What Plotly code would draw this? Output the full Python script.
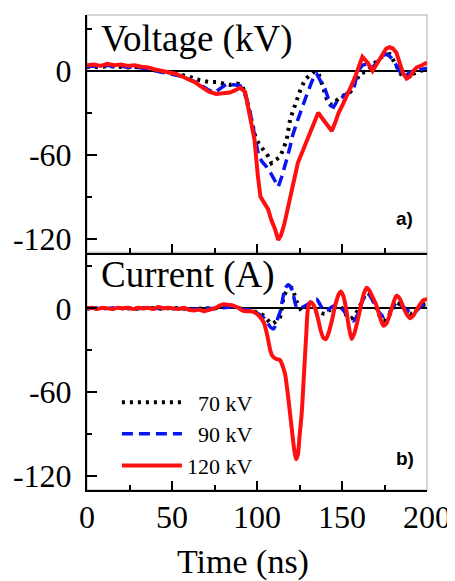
import plotly.graph_objects as go

# ---------------- data ----------------
# Panel a: Voltage (kV)
t_v120 = [0, 4, 8, 12, 16, 20, 24, 28, 32, 36, 40, 44, 48, 52, 56, 60, 64, 68, 72, 76, 80, 84, 87, 90, 93, 96,
          98.5, 100.5, 102, 104.5, 106.5, 108.5, 110.5, 112.5, 114, 116, 118, 120, 122, 124, 126, 128, 131,
          133.5, 136, 139, 141.5, 144, 146, 148, 150.5, 153, 155, 157.5, 160, 162, 165, 168, 171, 174, 176,
          178, 180, 182, 184, 186, 188, 190, 192, 194, 197, 200]
v120 = [4, 4.5, 3.5, 5, 4, 4.5, 3.5, 4, 3, 2.5, 1, 0, -1, -2, -4, -6, -8.5, -12, -15, -16.5, -16, -15.5, -14,
        -12, -15, -32, -49, -75, -90, -95, -99, -107, -113, -121, -118, -110, -100, -87, -77, -66, -60, -53,
        -44.5, -37, -30, -35, -39, -43, -37, -30, -24, -18, -12, -5, 3, 10, 6, 0, 6, 12, 16, 17, 16, 13, 5,
        -2, -5.5, -4, 0, 2.5, 4, 6]

t_v90 = [0, 4, 8, 12, 16, 20, 24, 28, 32, 36, 40, 44, 48, 52, 56, 60, 64, 68, 72, 75, 78, 82, 86, 90, 92, 94,
         96, 98, 101, 103, 105.5, 108, 110, 112.5, 114.5, 116.5, 118, 119.5, 121, 124, 126.5, 129, 131.5,
         133.5, 135, 137, 140, 142, 143.5, 145, 147, 150, 153, 156.5, 158, 159.5, 162, 164.5, 168, 171, 174,
         176, 178, 180, 183, 186, 188, 190, 192, 196, 200]
v90 = [3, 3.5, 3, 4, 3, 3.5, 2.5, 3, 2, 1.5, 0, -1, -2, -3, -4, -6, -8, -11, -14, -15.5, -13, -9.5, -10, -10.5,
       -14, -20, -30, -42, -61, -65, -68.5, -73, -78, -83, -76, -68.5, -61, -54, -46, -35, -26, -18, -10, -4,
       -2, -6, -13, -20, -25, -26, -22, -19, -16, -14, -6, 0, 4, 5, 2.5, 7, 11, 12, 10.5, 8, 2, -4.5, -3, -1,
       0, 1, 2]

t_v70 = [0, 4, 8, 12, 16, 20, 24, 28, 32, 36, 40, 44, 48, 52, 56, 60, 64, 68, 72, 76, 80, 84, 88, 91, 93, 95,
         97, 99, 101, 103, 104.5, 106.5, 108.5, 111, 113.5, 115.5, 117.5, 119.5, 121.5, 123.5, 126, 128.5,
         131, 133, 136, 138, 141, 143, 145, 147, 149, 152, 155, 158, 160.5, 163, 165, 168, 172, 175, 178,
         180, 182, 184, 186, 189, 192, 196, 200]
v70 = [3, 3, 2.5, 3.5, 3, 3, 2.5, 3, 2, 1.5, 0.5, -0.5, -1, -2, -3, -4, -6, -7, -8, -8, -9, -10, -9, -10, -16,
       -26, -38, -47, -52, -55, -57, -61, -66, -64, -61.5, -56, -49, -34.5, -27, -20, -12, -6, -3, -1, -1, -8,
       -20, -24, -24, -21, -19, -17, -15, -8, -2, -1, 0, 4, 9, 11, 12, 8, 3, -1, -5, -3.5, -2, 0, 1]

# Panel b: Current (A)
t_i120 = [0, 3, 6, 9, 12, 15, 18, 21, 24, 27, 30, 33, 36, 39, 42, 45, 48, 51, 54, 57, 60, 63, 66, 69, 72, 75,
          78, 80.5, 83, 86, 89, 92, 95, 98, 100, 102, 104, 106, 108, 109, 111, 113.5, 115, 116.5, 118, 119.5,
          121, 122, 123, 124, 125, 126.3, 127.5, 129, 130, 131.5, 133, 134.5, 136, 137.5, 139, 140.5, 142,
          144, 146, 148, 149.5, 151, 152.5, 154, 155.7, 157.5, 159.5, 161.5, 163, 164.5, 166, 168, 170, 172,
          174.3, 176, 178, 180, 182, 184, 186, 188, 190, 192, 194, 196, 198, 200]
i120 = [0, 0.5, -0.5, 0.5, 0, -0.5, 0.5, 0, 0.5, -0.5, 0.5, 0, 0.5, -0.5, 1, 0, 0.5, 0, -0.5, 0.5, -1, -1.5,
        -1, -2, -1, 0, 2, 3, 2.5, 2, 0.5, -1.8, -2, -2.5, -4, -6.5, -10, -19, -31, -34, -36, -37, -41, -47,
        -60, -76, -92, -102, -108, -105, -92, -75, -50, -18, 0, 4.5, 3, -1, -8, -16, -21, -22, -18, -9, 2, 10,
        12, 8, -1, -13, -22, -17, -7, 4, 11, 14.8, 13, 8, 3, -5, -12.4, -11, -5, 3, 9, 7, 1, -4, -7, -5, -1,
        3, 6, 6.5]

t_i90 = [0, 5, 10, 15, 20, 25, 30, 35, 40, 45, 50, 55, 60, 65, 70, 75, 80, 85, 90, 95, 98, 101, 103.7, 106,
         108, 109.6, 111, 112.5, 113.5, 115, 116.5, 118.4, 120, 121, 122, 123.4, 125, 127, 130, 133, 135, 137,
         139, 141, 144, 147, 150, 153, 156.5, 159, 161, 163.5, 165, 167, 170, 172, 174.3, 177, 180, 182, 184,
         187, 190, 193, 196, 199, 200]
i90 = [0, 0.3, -0.3, 0.3, 0, 0.3, -0.3, 0.3, 0, 0.3, -0.3, 0, -0.5, -0.5, 0, 0, 0.5, 1, -0.5, -1, -2, -4,
       -6.5, -10, -13.5, -14.7, -12, -6, -3, 6, 14, 17, 15, 12, 6, 0.5, 0, 1, 3, 6, 6.6, 3, -1, -1.5, 1, 2.5,
       0, -5, -9, -5, 2, 9, 11, 8, 1, -3, -5.7, -4, 1, 4, 3, 0, -2.5, -2, 1, 4, 4]

t_i70 = [0, 5, 10, 15, 20, 25, 30, 35, 40, 45, 50, 55, 60, 65, 70, 75, 80, 85, 90, 95, 98, 101, 103.7, 106,
         108.6, 111, 113.5, 115.5, 117.4, 120.4, 122, 123.4, 125, 126.3, 130, 135, 140, 143, 147, 150, 152,
         155, 158, 161, 164.5, 167, 170, 172, 174.3, 177, 180, 182, 185, 188, 190, 193, 196, 199, 200]
i70 = [0, -0.3, 0.3, -0.3, 0.3, 0, -0.3, 0.3, 0, -0.3, 0.3, 0, -0.5, -0.3, 0, 0, 1, 1.5, 0, -1, -2, -3.5, -5,
       -8, -11, -9.5, -6.5, 6.6, 12.5, 14.8, 10, 5, 1, -1.8, -1.5, -1.8, -4, -1, 3, 0, -4, -7.6, -4, 3, 11, 9,
       1, -5, -9, -6, 0, 4, 2, -2, -4, -2, 1, 3, 3]

x_ticks = [0, 50, 100, 150, 200]
x_ticklabels = ["0", "50", "100", "150", "200"]
x_minor = [25, 75, 125, 175]
y_ticks = [-120, -60, 0]
y_ticklabels = ["-120", "-60", "0"]
y_minor = [-90, -30, 30]
series_names = ["70 kV", "90 kV", "120 kV"]

# ---------------- figure ----------------
SERIF = "Liberation Serif"
fig = go.Figure()

styles = [
    dict(color="black", width=4, dash="3px,5px"),
    dict(color="#0a14f0", width=3.5, dash="11px,6px"),
    dict(color="#ff1010", width=4, dash="solid"),
]
legend_names = ["\u00a0\u00a0" + series_names[0], "\u00a0\u00a0" + series_names[1], series_names[2]]

va = [(t_v70, v70), (t_v90, v90), (t_v120, v120)]
ib = [(t_i70, i70), (t_i90, i90), (t_i120, i120)]

for k, (tt, vv) in enumerate(va):
    fig.add_trace(go.Scatter(x=tt, y=vv, mode="lines", line=styles[k], xaxis="x", yaxis="y",
                             showlegend=False, name=series_names[k]))
for k, (tt, ii) in enumerate(ib):
    fig.add_trace(go.Scatter(x=tt, y=ii, mode="lines", line=dict(styles[k], shape="spline", smoothing=0.7),
                             xaxis="x2", yaxis="y2", showlegend=True, name=legend_names[k]))

tickfont = dict(family=SERIF, size=32, color="black")

def xaxis_cfg(anchor, labels):
    return dict(anchor=anchor, domain=[0, 1], range=[0, 200], showgrid=False, zeroline=False,
                automargin=False,
                showline=True, linecolor="black", linewidth=2, ticks="inside", ticklen=9, tickwidth=1.8,
                tickcolor="black", tickvals=x_ticks, ticktext=x_ticklabels, showticklabels=labels,
                tickfont=tickfont, ticklabelstandoff=-2,
                minor=dict(tickvals=x_minor, ticks="inside", ticklen=5, tickwidth=1.5, tickcolor="black"))

def yaxis_cfg(anchor, domain):
    return dict(anchor=anchor, domain=domain, range=[-130, 40], showgrid=False, automargin=False,
                zeroline=True, zerolinecolor="black", zerolinewidth=1.8,
                showline=True, linecolor="black", linewidth=2, ticks="inside", ticklen=10, tickwidth=1.8,
                tickcolor="black", tickvals=y_ticks, ticktext=y_ticklabels, tickfont=tickfont,
                ticklabelstandoff=7,
                minor=dict(tickvals=y_minor, ticks="inside", ticklen=5, tickwidth=1.5, tickcolor="black"))

# the page adds an 8px body margin, so the margins below are offset by 8px
fig.update_layout(
    template="none",
    width=455, height=581,
    margin=dict(l=79, r=36, t=7, b=99, autoexpand=False),
    paper_bgcolor="white", plot_bgcolor="white",
    xaxis=xaxis_cfg("y", False),
    yaxis=yaxis_cfg("x", [0.5, 1]),
    xaxis2=xaxis_cfg("y2", True),
    yaxis2=yaxis_cfg("x2", [0, 0.5]),
    legend=dict(x=0.088, y=0.118, xanchor="left", yanchor="middle", bgcolor="rgba(0,0,0,0)",
                font=dict(family=SERIF, size=22, color="black"), itemwidth=60, tracegroupgap=0),
    shapes=[
        dict(type="rect", xref="paper", yref="paper", x0=0, x1=1, y0=0.5, y1=1,
             line=dict(color="#c8c8c8", width=1.5), layer="below"),
        dict(type="rect", xref="paper", yref="paper", x0=0, x1=1, y0=0, y1=0.5,
             line=dict(color="#c8c8c8", width=1.5), layer="below"),
    ],
    annotations=[
        dict(text="Voltage (kV)", xref="paper", yref="paper", x=0.035, y=0.95, xanchor="left",
             yanchor="middle", showarrow=False, font=dict(family=SERIF, size=37, color="black")),
        dict(text="Current (A)", xref="paper", yref="paper", x=0.035, y=0.452, xanchor="left",
             yanchor="middle", showarrow=False, font=dict(family=SERIF, size=37, color="black")),
        dict(text="<b>a)</b>", xref="paper", yref="paper", x=0.935, y=0.571, xanchor="center",
             yanchor="middle", showarrow=False, font=dict(family="Liberation Sans", size=19, color="black")),
        dict(text="<b>b)</b>", xref="paper", yref="paper", x=0.935, y=0.067, xanchor="center",
             yanchor="middle", showarrow=False, font=dict(family="Liberation Sans", size=19, color="black")),
        dict(text="Time (ns)", xref="paper", yref="paper", x=0.46, y=-0.152, xanchor="center",
             yanchor="middle", showarrow=False, font=dict(family=SERIF, size=34, color="black")),
    ],
)

fig.write_html("out.html")
